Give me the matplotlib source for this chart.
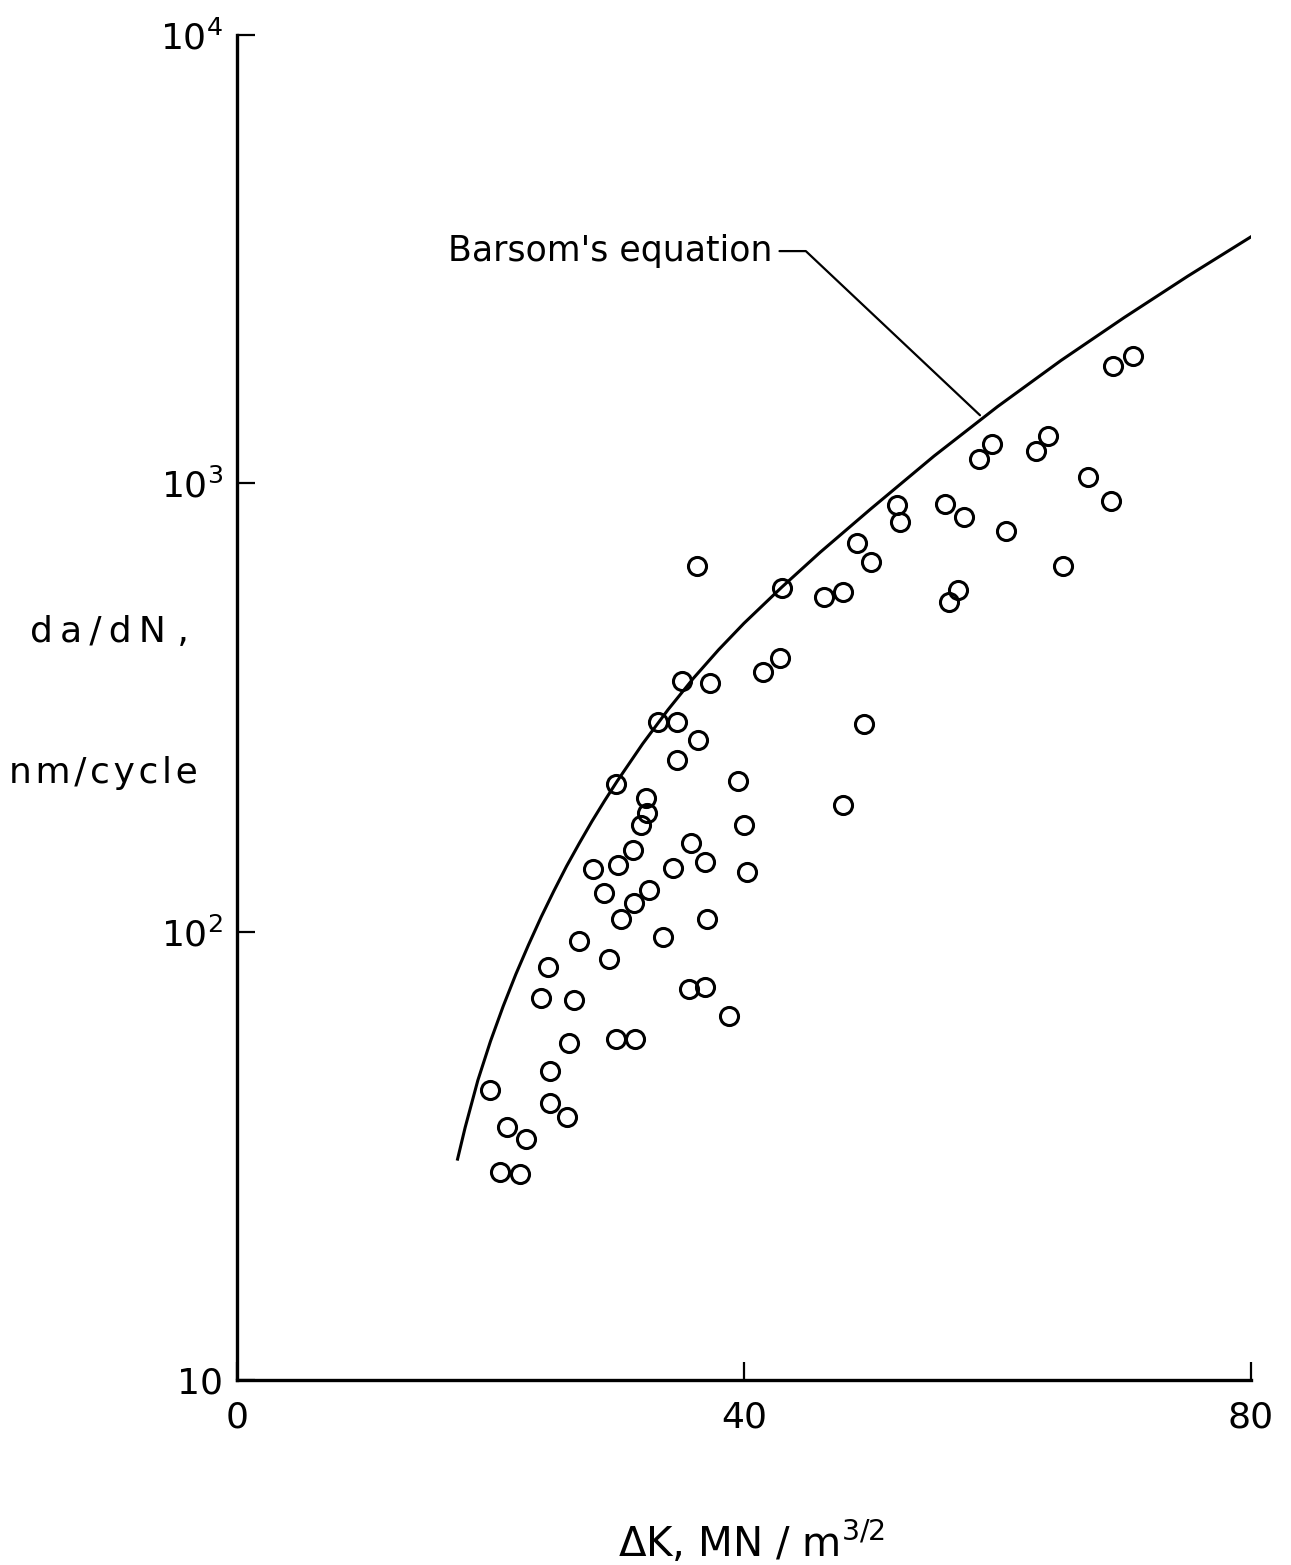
import numpy as np
import matplotlib
matplotlib.use('Agg')
import matplotlib.pyplot as plt

# crack growth data: stress intensity range (MN/m^3/2) vs da/dN (nm/cycle)
dK = [19.96, 21.30, 20.75, 22.33, 22.80, 23.98, 24.54, 24.69, 24.69, 26.04,
      26.19, 26.59, 26.98, 28.09, 28.95, 29.35, 29.90, 30.06, 29.90, 30.30,
      31.24, 31.40, 31.32, 31.87, 32.27, 32.35, 32.50, 33.21, 33.61, 34.40,
      34.71, 34.71, 35.11, 35.66, 35.82, 36.29, 36.37, 36.92, 36.92, 37.08,
      37.32, 38.82, 39.53, 40.00, 40.24, 41.50, 42.84, 43.00, 46.31, 47.81,
      47.81, 48.92, 49.47, 50.02, 52.07, 52.31, 55.86, 56.17, 56.88, 57.36,
      58.54, 59.57, 60.67, 63.04, 63.98, 65.17, 67.14, 68.95, 69.11, 70.69]
dadN = [44.3, 36.7, 29.1, 28.8, 34.5, 71.3, 83.6, 49.0, 41.5, 38.6,
        56.5, 70.5, 95.4, 138, 122, 87.1, 213, 141, 57.7, 107,
        152, 57.7, 116, 173, 199, 184, 124, 294, 97.1, 139,
        242, 293, 362, 74.6, 158, 653, 267, 75.4, 143, 107,
        359, 64.9, 217, 173, 136, 380, 407, 583, 557, 571,
        192, 735, 290, 667, 893, 818, 898, 545, 577, 840,
        1132, 1223, 785, 1178, 1273, 653, 1031, 912, 1824, 1919]

# Barsom's equation curve
curve_dK = [17.4, 18, 19, 20, 21, 22, 23, 24, 25, 26, 27, 28, 29, 30,
            32, 34, 36, 38, 40, 43, 46, 50, 55, 60, 65, 70, 75, 80]
curve_dadN = [31.1, 36.6, 46.6, 57.0, 68.2, 80.4, 93.5, 107.9, 123.3, 140.0,
              157.4, 176.2, 195.9, 216.8, 262.4, 312.6, 367.3, 425.6, 487.5,
              587.5, 701.5, 877.0, 1151, 1483, 1879, 2344, 2897, 3548]

xticks = [0, 40, 80]
yticks = [10, 100, 1000, 10000]
ylabels = ['10', r'$10^2$', r'$10^3$', r'$10^4$']

plt.rcParams['font.family'] = ['DejaVu Sans']
plt.rcParams['mathtext.fontset'] = 'dejavusans'

fig = plt.figure(figsize=(12.91, 15.65), dpi=100)
ax = fig.add_axes([0.1836, 0.1182, 0.7854, 0.8594])

ax.plot(curve_dK, curve_dadN, color='black', lw=2.2, solid_joinstyle='round')
ax.plot(dK, dadN, 'o', ms=13, mfc='none', mec='black', mew=2.2, ls='none')

ax.set_yscale('log')
ax.set_xlim(0, 80)
ax.set_ylim(10, 10000)
ax.set_xticks(xticks)
ax.set_xticklabels([str(t) for t in xticks])
ax.set_yticks(yticks)
ax.set_yticklabels(ylabels)
ax.minorticks_off()
ax.tick_params(axis='both', direction='in', length=13, width=1.6,
               labelsize=26, color='black')
ax.tick_params(axis='x', pad=15)
ax.tick_params(axis='y', pad=10)

for s in ['top', 'right']:
    ax.spines[s].set_visible(False)
for s in ['left', 'bottom']:
    ax.spines[s].set_linewidth(2.4)

ax.annotate("Barsom's equation", xy=(58.62, 1419), xytext=(16.65, 3297),
            textcoords='data', fontsize=25, ha='left', va='center',
            arrowprops=dict(arrowstyle='-', connectionstyle='angle,angleA=0,angleB=-43.3',
                            shrinkA=3, shrinkB=0, lw=1.6, color='black'))

fig.text(0.085, 0.596, '\u2009'.join('da/dN') + ' ,', fontsize=26,
         ha='center', va='center')
fig.text(0.080, 0.506, '\u200a'.join('nm/cycle'), fontsize=26,
         ha='center', va='center')
fig.text(0.582, 0.005, r'$\Delta$K, MN / m$^{3/2}$', fontsize=29,
         ha='center', va='baseline')

fig.savefig('out.png', dpi=100)
